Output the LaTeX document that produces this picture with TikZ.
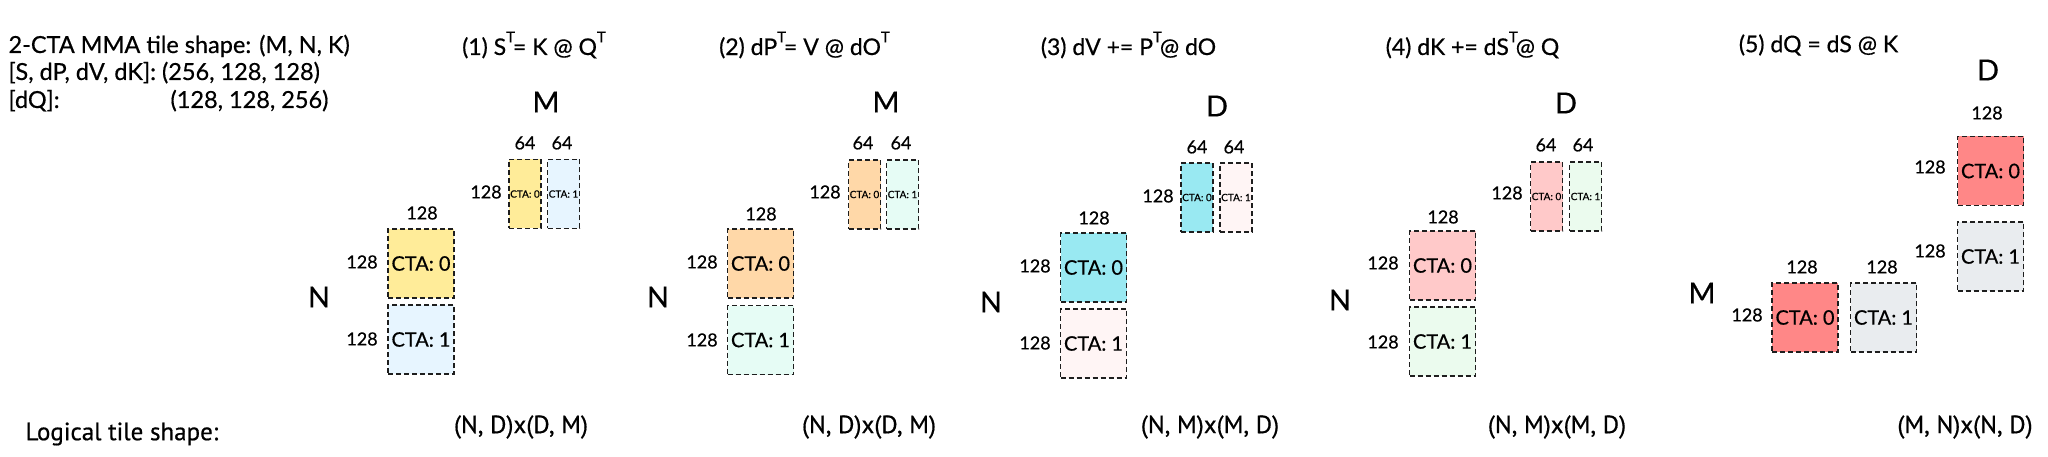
\documentclass[tikz,border=0pt]{standalone}
\usepackage{fontspec}
\setmainfont{Lato}[RawFeature={embolden=0.5}]
\newfontfamily\shapefont{PT Sans}[RawFeature={embolden=0.6}]
\usepackage{tikz}

\definecolor{ink}{HTML}{1E1E1E}
\definecolor{yellowA}{HTML}{FFEC99}
\definecolor{blueA}{HTML}{E7F5FF}
\definecolor{orangeB}{HTML}{FFD8A8}
\definecolor{tealB}{HTML}{E6FCF5}
\definecolor{cyanC}{HTML}{99E9F2}
\definecolor{roseC}{HTML}{FFF5F5}
\definecolor{redD}{HTML}{FFC9C9}
\definecolor{greenD}{HTML}{EBFBEE}
\definecolor{redE}{HTML}{FF8787}
\definecolor{grayE}{HTML}{E9ECEF}

\newcommand{\supT}{\raisebox{0.55em}{\fontsize{15}{15}\selectfont T}}

\begin{document}
\begin{tikzpicture}[x=1pt,y=-1pt,
  tile/.style={draw=ink,dash pattern=on 5pt off 3pt,line width=1.8pt,
    minimum width=66pt,minimum height=69pt,inner sep=0pt,
    font=\fontsize{20}{24}\selectfont},
  half/.style={tile,minimum width=32pt,font=\fontsize{10}{11}\selectfont},
  dim/.style={font=\fontsize{18}{20}\selectfont},
  axis/.style={font=\fontsize{29}{32}\selectfont},
  eqn/.style={font=\fontsize{23}{26}\selectfont},
  note/.style={font=\fontsize{23.5}{26}\selectfont,anchor=base west},
  logic/.style={font=\shapefont\fontsize{25}{28}\selectfont}]
  \useasboundingbox (0,0) rectangle (2048,457);

  % shape summary
  \node[note] (head)  at (5,53)  {2-CTA MMA tile shape: (M, N, K)};
  \node[note] (fwd)   at (5,80)  {[S, dP, dV, dK]: (256, 128, 128)};
  \node[note] (dq)    at (5,108) {[dQ]:};
  \node[note] (dqval) at (167,108) {(128, 128, 256)};

  % (1)
  \node[eqn] (t1) at (534,45) {(1) S\supT\kern-2pt= K @ Q\supT};
  \node[axis] (m1) at (546,102) {M};
  \node[axis] (n1) at (319,297) {N};
  \node[tile,fill=yellowA] (p1big0) at (421,263.5) {CTA: 0};
  \node[tile,fill=blueA]   (p1big1) at (421,339.5) {CTA: 1};
  \node[half,fill=yellowA] (p1half0) at (525,194) {CTA: 0};
  \node[half,fill=blueA]   (p1half1) at (563.5,194) {CTA: 1};
  \node[dim] (p1w) at (422,213) {128};
  \node[dim] (p1h0) at (362,262) {128};
  \node[dim] (p1h1) at (362,339) {128};
  \node[dim] (p1w0) at (525,143) {64};
  \node[dim] (p1w1) at (562,143) {64};
  \node[dim] (p1h) at (486,192) {128};

  % (2)
  \node[eqn] (t2) at (804.5,45) {(2) dP\supT\kern-2pt= V @ dO\supT};
  \node[axis] (m2) at (886,102) {M};
  \node[axis] (n2) at (658,297) {N};
  \node[tile,fill=orangeB] (p2big0) at (760.5,263.5) {CTA: 0};
  \node[tile,fill=tealB]   (p2big1) at (760.5,340) {CTA: 1};
  \node[half,fill=orangeB] (p2half0) at (864.5,194.5) {CTA: 0};
  \node[half,fill=tealB]   (p2half1) at (902.5,194.5) {CTA: 1};
  \node[dim] (p2w) at (761,214) {128};
  \node[dim] (p2h0) at (702,262) {128};
  \node[dim] (p2h1) at (702,340) {128};
  \node[dim] (p2w0) at (863,143) {64};
  \node[dim] (p2w1) at (901,143) {64};
  \node[dim] (p2h) at (825,192) {128};

  % (3)
  \node[eqn] (t3) at (1128.5,45) {(3) dV += P\supT\kern-2pt@ dO};
  \node[axis] (d3) at (1217,106) {D};
  \node[axis] (n3) at (991,302) {N};
  \node[tile,fill=cyanC] (p3big0) at (1093.5,267.5) {CTA: 0};
  \node[tile,fill=roseC] (p3big1) at (1093.5,343.5) {CTA: 1};
  \node[half,fill=cyanC] (p3half0) at (1197,197.5) {CTA: 0};
  \node[half,fill=roseC] (p3half1) at (1236,197.5) {CTA: 1};
  \node[dim] (p3w) at (1094,218) {128};
  \node[dim] (p3h0) at (1035,266) {128};
  \node[dim] (p3h1) at (1035,343) {128};
  \node[dim] (p3w0) at (1197,147) {64};
  \node[dim] (p3w1) at (1234,147) {64};
  \node[dim] (p3h) at (1158,196) {128};

  % (4)
  \node[eqn] (t4) at (1472.5,45) {(4) dK += dS\supT\kern-2pt@ Q};
  \node[axis] (d4) at (1566,103) {D};
  \node[axis] (n4) at (1340,300) {N};
  \node[tile,fill=redD]   (p4big0) at (1442.5,265.5) {CTA: 0};
  \node[tile,fill=greenD] (p4big1) at (1442.5,341.5) {CTA: 1};
  \node[half,fill=redD]   (p4half0) at (1546.5,196.5) {CTA: 0};
  \node[half,fill=greenD] (p4half1) at (1585.5,196.5) {CTA: 1};
  \node[dim] (p4w) at (1443,217) {128};
  \node[dim] (p4h0) at (1383,263) {128};
  \node[dim] (p4h1) at (1383,342) {128};
  \node[dim] (p4w0) at (1546,145) {64};
  \node[dim] (p4w1) at (1583,145) {64};
  \node[dim] (p4h) at (1507,193) {128};

  % (5)
  \node[eqn] (t5) at (1818.5,45) {(5) dQ = dS @ K};
  \node[axis] (d5) at (1988,70) {D};
  \node[axis] (m5) at (1702,293) {M};
  \node[tile,fill=redE]  (p5top0) at (1990.5,171) {CTA: 0};
  \node[tile,fill=grayE] (p5top1) at (1990.5,256.5) {CTA: 1};
  \node[tile,fill=redE]  (p5low0) at (1805,317.5) {CTA: 0};
  \node[tile,fill=grayE] (p5low1) at (1883.5,317.5) {CTA: 1};
  \node[dim] (p5w) at (1987,113) {128};
  \node[dim] (p5h0) at (1930,167) {128};
  \node[dim] (p5h1) at (1930,251) {128};
  \node[dim] (p5w0) at (1802,267) {128};
  \node[dim] (p5w1) at (1882,267) {128};
  \node[dim] (p5h) at (1747,315) {128};

  % logical shapes
  \node[logic,anchor=west] (logic) at (22,434) {Logical tile shape:};
  \node[logic] (l1) at (521,427) {(N, D)x(D, M)};
  \node[logic] (l2) at (869,427) {(N, D)x(D, M)};
  \node[logic] (l3) at (1210,427) {(N, M)x(M, D)};
  \node[logic] (l4) at (1557,427) {(N, M)x(M, D)};
  \node[logic] (l5) at (1965,427) {(M, N)x(N, D)};
\end{tikzpicture}
\end{document}
